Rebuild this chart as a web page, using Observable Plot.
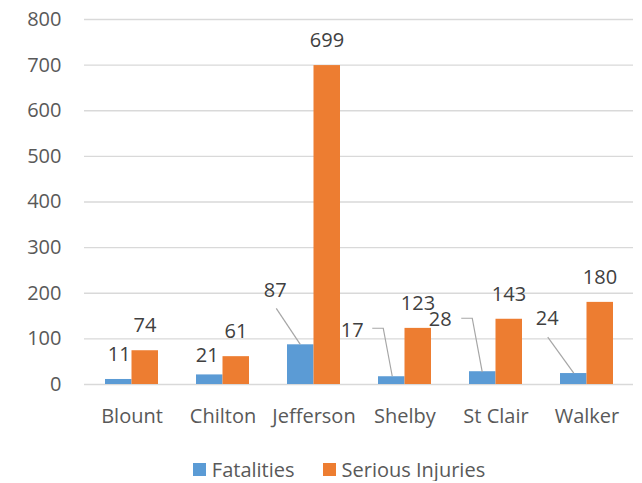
<!DOCTYPE html>
<html><head><meta charset="utf-8">
<script src="https://cdn.jsdelivr.net/npm/d3@7"></script>
<script src="https://cdn.jsdelivr.net/npm/@observablehq/plot@0.6"></script>
<style>
body{margin:0;background:#fff;font-family:"Open Sans",sans-serif;}
#legend{display:flex;justify-content:center;align-items:center;margin-top:12px;padding-left:36px;height:24px;font-size:20px;color:#595959;}
.item{display:flex;align-items:center;}
.sw{width:13px;height:13px;margin-right:6px;}
</style></head><body><div id="chart"></div><div id="legend"></div>
<script>
const categories = ["Blount", "Chilton", "Jefferson", "Shelby", "St Clair", "Walker"];
const fatalities = [11, 21, 87, 17, 28, 24];
const seriousInjuries = [74, 61, 699, 123, 143, 180];
const seriesNames = ["Fatalities", "Serious Injuries"];
const seriesColors = ["#5B9BD5", "#ED7D31"];
const yTicks = [0, 100, 200, 300, 400, 500, 600, 700, 800];

// label layout (pixel offsets from top-centre of each Fatalities bar)
const fatalityLabelLayout = [
  {dx: 1, dy: -25, leader: null},
  {dx: -2, dy: -19, leader: null},
  {dx: -25, dy: -54, leader: [[-24, -36], [0, 0]]},
  {dx: -39, dy: -46, leader: [[-19, -48], [-8, -48], [1, 0]]},
  {dx: -42, dy: -52, leader: [[-21, -53], [-10, -53], [0, 1]]},
  {dx: -26, dy: -55, leader: [[-25.5, -36], [0.5, 0]]}
];

const rows = categories.map((c, i) => ({category: c, fatalities: fatalities[i], injuries: seriousInjuries[i]}));

function fatalityLabels(index, scales) {
  const x = scales.x, y = scales.y;
  const bw = typeof x.bandwidth === "function" ? x.bandwidth() : x.bandwidth;
  const g = d3.create("svg:g");
  categories.forEach((c, i) => {
    const cx = x(c) + bw / 4;
    const top = y(fatalities[i]);
    const L = fatalityLabelLayout[i];
    if (L.leader) {
      g.append("path")
        .attr("d", d3.line()(L.leader.map(([a, b]) => [cx + a, top + b])))
        .attr("fill", "none").attr("stroke", "#A6A6A6").attr("stroke-width", 1.2);
    }
    g.append("text")
      .attr("x", cx + L.dx).attr("y", top + L.dy)
      .attr("text-anchor", "middle").attr("dy", "0.35em")
      .attr("fill", "#404040").attr("font-size", 20)
      .text(fatalities[i]);
  });
  return g.node();
}

const chart = Plot.plot({
  width: 642,
  height: 445,
  marginLeft: 84,
  marginRight: 9,
  marginTop: 19,
  marginBottom: 61,
  style: {fontFamily: "Open Sans", fontSize: "20px", color: "#595959", background: "#fff"},
  x: {domain: categories, paddingInner: 0.42, paddingOuter: 0.21, tickSize: 0, tickPadding: 24, label: null},
  y: {domain: [0, 800], ticks: yTicks, tickSize: 0, tickPadding: 23, label: null},
  marks: [
    Plot.ruleY(yTicks, {stroke: "#D9D9D9", strokeWidth: 1.3}),
    Plot.barY(rows, {x: "category", y: "fatalities", fill: seriesColors[0], insetRight: 26.5}),
    Plot.barY(rows, {x: "category", y: "injuries", fill: seriesColors[1], insetLeft: 26.5}),
    Plot.text(rows, {x: "category", y: "injuries", text: d => String(d.injuries), dx: 13, dy: -25, fill: "#404040", fontSize: 20}),
    fatalityLabels
  ]
});
document.getElementById("chart").appendChild(chart);

const legend = document.getElementById("legend");
seriesNames.forEach((name, i) => {
  const item = document.createElement("div");
  item.className = "item";
  if (i > 0) item.style.marginLeft = "28px";
  const sw = document.createElement("div");
  sw.className = "sw";
  sw.style.background = seriesColors[i];
  const t = document.createElement("span");
  t.textContent = name;
  item.appendChild(sw); item.appendChild(t);
  legend.appendChild(item);
});
</script></body></html>
